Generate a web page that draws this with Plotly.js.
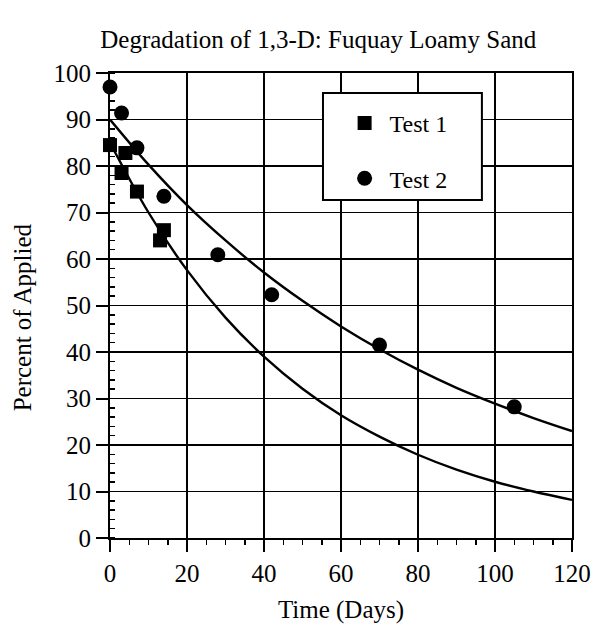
<!DOCTYPE html>
<html>
<head>
<meta charset="utf-8">
<script src="https://cdn.plot.ly/plotly-3.0.1.min.js"></script>
<style>
  html, body { margin: 0; padding: 0; background: #fff; }
  #chart { width: 595px; height: 625px; }
</style>
</head>
<body>
<div id="chart"></div>
<script>
// Measured residues of 1,3-D (percent of applied) over time
const test1Days = [0, 3, 4, 7, 13, 14];
const test1Pct  = [84.5, 78.5, 82.8, 74.5, 64.0, 66.2];

const test2Days = [0, 3, 7, 14, 28, 42, 70, 105];
const test2Pct  = [97.0, 91.4, 83.9, 73.5, 60.9, 52.3, 41.5, 28.2];

// First-order decay fit curves, sampled every 10 days
const fitDays  = [0, 10, 20, 30, 40, 50, 60, 70, 80, 90, 100, 110, 120];
const fit1Pct  = [85.0, 70.0, 57.6, 47.4, 39.0, 32.1, 26.4, 21.8, 17.9, 14.7, 12.1, 10.0, 8.2];
const fit2Pct  = [90.0, 80.3, 71.6, 64.0, 57.1, 51.0, 45.5, 40.6, 36.2, 32.3, 28.9, 25.8, 23.0];

const serif = 'Liberation Serif, Times New Roman, serif';

const traces = [
  {
    x: fitDays, y: fit1Pct, mode: 'lines', line: {color: '#000', width: 2.4, shape: 'spline'},
    showlegend: false, hoverinfo: 'skip'
  },
  {
    x: fitDays, y: fit2Pct, mode: 'lines', line: {color: '#000', width: 2.4, shape: 'spline'},
    showlegend: false, hoverinfo: 'skip'
  },
  {
    x: test1Days, y: test1Pct, mode: 'markers', name: 'Test 1', legendgroup: 'g1',
    marker: {symbol: 'square', size: 14, color: '#000'}, cliponaxis: false
  },
  {
    x: test2Days, y: test2Pct, mode: 'markers', name: 'Test 2', legendgroup: 'g2',
    marker: {symbol: 'circle', size: 15, color: '#000'}, cliponaxis: false
  }
];

const layout = {
  width: 595, height: 625,
  margin: {l: 110, r: 23, t: 73, b: 87},
  paper_bgcolor: '#fff', plot_bgcolor: '#fff',
  font: {family: serif, size: 25, color: '#000'},
  title: {
    text: 'Degradation of 1,3-D: Fuquay Loamy Sand',
    font: {family: serif, size: 25, color: '#000'},
    x: 0.535, xanchor: 'center', y: 0.937, yanchor: 'middle'
  },
  xaxis: {
    range: [0, 120], dtick: 20, tick0: 0,
    showgrid: true, gridcolor: '#000', gridwidth: 1.8,
    showline: true, linecolor: '#000', linewidth: 2, mirror: true,
    ticks: 'outside', ticklen: 12, tickwidth: 2, tickcolor: '#000',
    minor: {dtick: 5, ticks: 'outside', ticklen: 5, tickwidth: 1.5, tickcolor: '#000', showgrid: false},
    zeroline: false, fixedrange: true,
    tickfont: {family: serif, size: 25, color: '#000'},
    title: {text: 'Time (Days)', font: {family: serif, size: 25, color: '#000'}, standoff: 14}
  },
  yaxis: {
    range: [0, 100], dtick: 10, tick0: 0,
    showgrid: true, gridcolor: '#000', gridwidth: 1.8,
    showline: true, linecolor: '#000', linewidth: 2, mirror: true,
    ticks: 'outside', ticklen: 12, tickwidth: 2, tickcolor: '#000',
    minor: {dtick: 2, ticks: 'inside', ticklen: 5, tickwidth: 1.5, tickcolor: '#000', showgrid: false},
    zeroline: false, fixedrange: true,
    tickfont: {family: serif, size: 25, color: '#000'}
  },
  // y-axis label, set slightly below the plot's vertical centre
  annotations: [{
    text: 'Percent of Applied', textangle: -90, showarrow: false,
    xref: 'paper', yref: 'paper', x: -0.19, y: 0.475,
    xanchor: 'center', yanchor: 'middle',
    font: {family: serif, size: 25, color: '#000'}
  }],
  // white framed box behind the legend entries
  shapes: [{
    type: 'rect', xref: 'paper', yref: 'paper', layer: 'above',
    x0: 0.461, x1: 0.805, y0: 0.727, y1: 0.957,
    line: {color: '#000', width: 2}, fillcolor: '#fff'
  }],
  showlegend: true,
  legend: {
    x: 0.497, y: 0.94, xanchor: 'left', yanchor: 'top',
    bgcolor: 'rgba(0,0,0,0)', borderwidth: 0,
    font: {family: serif, size: 24, color: '#000'},
    traceorder: 'grouped', tracegroupgap: 21,
    itemwidth: 40
  }
};

Plotly.newPlot('chart', traces, layout, {displayModeBar: false, staticPlot: true});
</script>
</body>
</html>
